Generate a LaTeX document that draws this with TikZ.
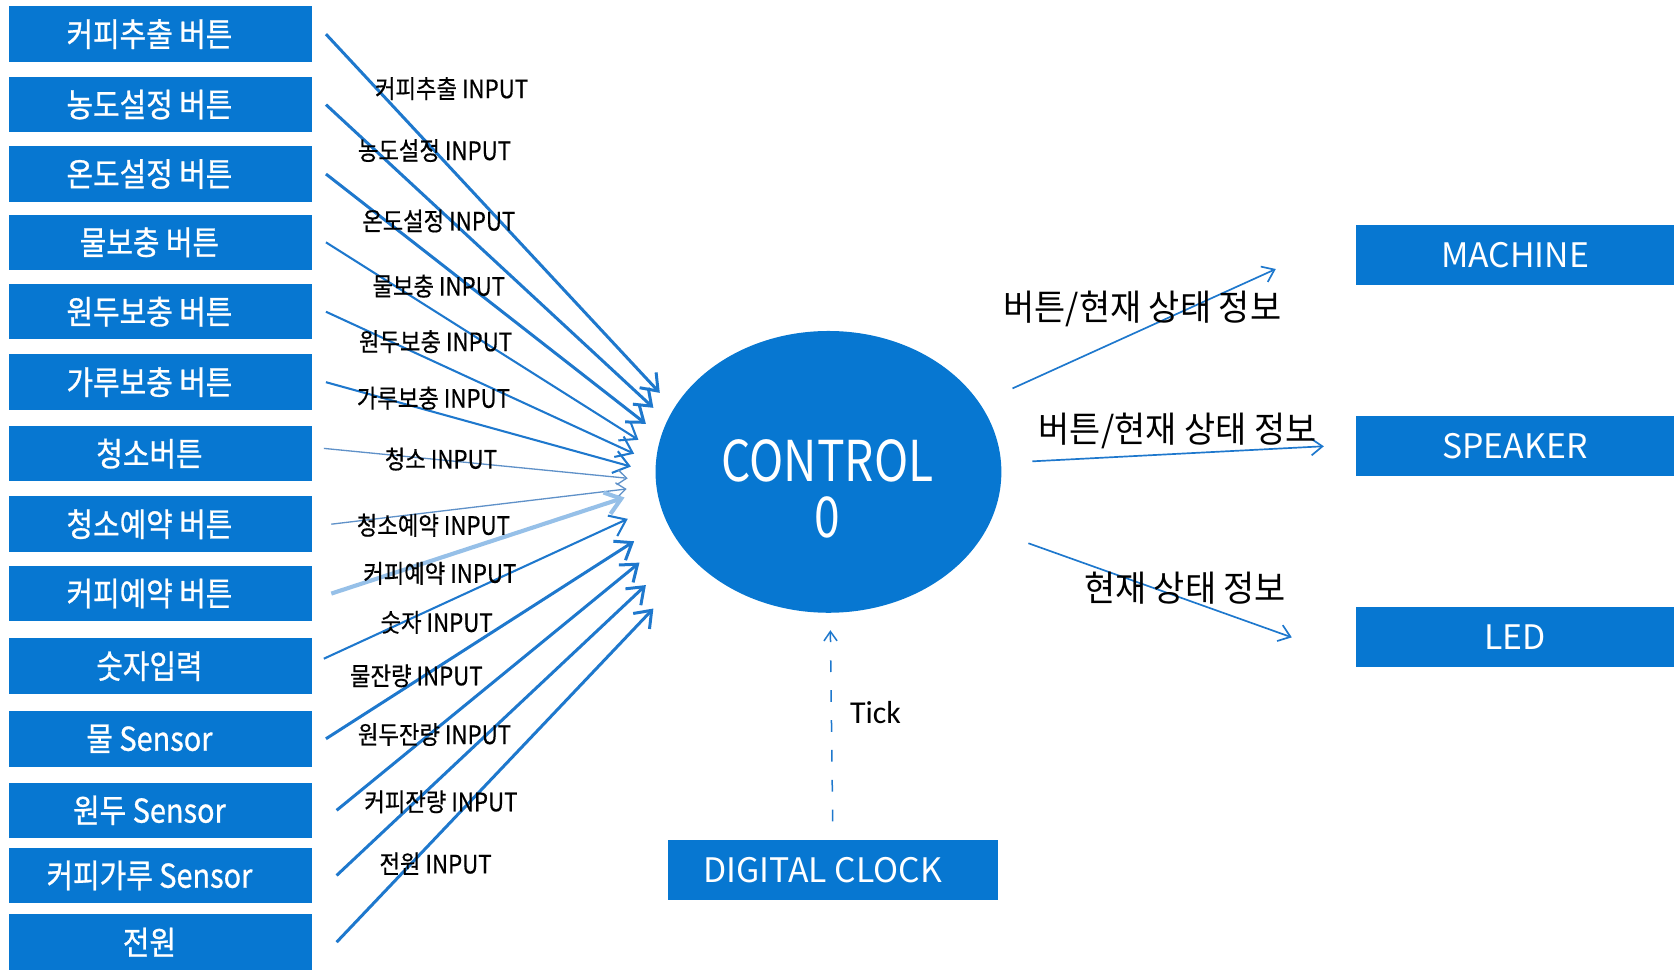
\documentclass[tikz,border=0pt]{standalone}
\usepackage{fontspec}
\setmainfont{Noto Sans CJK KR}
\newfontfamily\boxfont[FakeStretch=0.88,FakeBold=0.8]{Noto Sans CJK KR}
\newfontfamily\lblfont[FakeStretch=0.88,FakeBold=0.5]{Noto Sans CJK KR}
\newfontfamily\infofont[FakeStretch=0.95]{Noto Sans CJK KR}
\newfontfamily\tickfont{Carlito}
\usetikzlibrary{shapes.geometric,arrows.meta}

\definecolor{boxblue}{RGB}{7,119,209}
\definecolor{lineblue}{RGB}{30,120,205}
\definecolor{greyblue}{RGB}{95,145,200}
\definecolor{paleblue}{RGB}{150,192,232}

\tikzset{
  btn/.style={rectangle,fill=boxblue,text=white,inner sep=0pt,
    minimum width=5.68cm,minimum height=1.04cm,font=\boxfont\fontsize{17.5}{19}\selectfont,
    execute at end node=\hspace{0.4cm}},
  outbox/.style={rectangle,fill=boxblue,text=white,inner sep=0pt,
    minimum width=5.96cm,minimum height=1.13cm,font=\fontsize{18}{20}\selectfont},
  inlbl/.style={inner sep=1pt,font=\lblfont\fontsize{13.5}{15}\selectfont},
  outlbl/.style={inner sep=1pt,font=\infofont\fontsize{19}{21}\selectfont},
  feed/.style={draw=lineblue,line width=1.6pt,-{Straight Barb[length=8pt,width=12pt]}},
  feedmid/.style={feed,line width=1.1pt},
  feedthin/.style={draw=greyblue,line width=0.7pt,-{Straight Barb[length=5pt,width=8pt]}},
  feedpale/.style={feed,draw=paleblue,line width=2.2pt},
  sendline/.style={draw=lineblue,line width=0.9pt,-{Straight Barb[length=6pt,width=9pt]}},
  tickline/.style={draw=lineblue,line width=0.8pt,dash pattern=on 0.22cm off 0.34cm,
    -{Straight Barb[length=5pt,width=7pt]}}
}

\begin{document}
\begin{tikzpicture}[x=0.02cm,y=-0.02cm]
  \useasboundingbox (0,0) rectangle (1568,908);

  % input buttons and sensors
  \node (b1) at (150,32) [btn] {커피추출 버튼};
  \node (b2) at (150,98) [btn] {농도설정 버튼};
  \node (b3) at (150,163) [btn] {온도설정 버튼};
  \node (b4) at (150,227) [btn] {물보충 버튼};
  \node (b5) at (150,292) [btn] {원두보충 버튼};
  \node (b6) at (150,358) [btn] {가루보충 버튼};
  \node (b7) at (150,425) [btn] {청소버튼};
  \node (b8) at (150,491) [btn] {청소예약 버튼};
  \node (b9) at (150,556) [btn] {커피예약 버튼};
  \node (b10) at (150,624) [btn] {숫자입력};
  \node (b11) at (150,692) [btn] {물 Sensor};
  \node (b12) at (150,759) [btn] {원두 Sensor};
  \node (b13) at (150,820) [btn] {커피가루 Sensor};
  \node (b14) at (150,882.5) [btn] {전원};

  % controller
  \node (ctl) at (776,442) [ellipse,fill=boxblue,inner sep=0pt,minimum width=6.48cm,minimum height=5.28cm] {};
  \node (ctltxt) at (775,458) [text=white,align=center,font=\addfontfeature{FakeStretch=0.82}\fontsize{30}{29.5}\selectfont] {CONTROL\\0};

  % outputs
  \node (mach) at (1419,239) [outbox] {MACHINE};
  \node (spk) at (1419,417.5) [outbox] {SPEAKER};
  \node (led) at (1419,596.5) [outbox] {LED};
  \node (clk) at (780.5,815) [outbox,minimum width=6.18cm,execute at end node=\hspace{0.4cm}] {DIGITAL CLOCK};

  % arrow ends beside the controller
  \coordinate (e1) at (618,368);
  \coordinate (e2) at (612,382);
  \coordinate (e3) at (605,397);
  \coordinate (e4) at (598,412);
  \coordinate (e5) at (594,425);
  \coordinate (e6) at (591,437);
  \coordinate (e7) at (588,448);
  \coordinate (e8) at (587,458);
  \coordinate (e9) at (585,466);
  \coordinate (e10) at (588,486);
  \coordinate (e11) at (594,507);
  \coordinate (e12) at (599,527);
  \coordinate (e13) at (605,548);
  \coordinate (e14) at (612,570);

  \draw[feed] ([xshift=0.26cm]b1.east) -- (e1);
  \draw[feed] ([xshift=0.26cm]b2.east) -- (e2);
  \draw[feed] ([xshift=0.26cm]b3.east) -- (e3);
  \draw[feedmid] ([xshift=0.26cm]b4.east) -- (e4);
  \draw[feedmid] ([xshift=0.26cm]b5.east) -- (e5);
  \draw[feedmid] ([xshift=0.26cm]b6.east) -- (e6);
  \draw[feedthin] ([xshift=0.22cm,yshift=0.1cm]b7.east) -- (e7);
  \draw[feedthin] ([xshift=0.36cm]b8.east) -- (e8);
  \draw[feedpale] ([xshift=0.36cm]b9.east) -- (e9);
  \draw[feedmid] ([xshift=0.22cm,yshift=0.14cm]b10.east) -- (e10);
  \draw[feed] ([xshift=0.26cm]b11.east) -- (e11);
  \draw[feed] ([xshift=0.46cm]b12.east) -- (e12);
  \draw[feed] ([xshift=0.46cm]b13.east) -- (e13);
  \draw[feed] ([xshift=0.46cm]b14.east) -- (e14);

  % input labels
  \node (l1) at (423,83) [inlbl] {커피추출 INPUT};
  \node (l2) at (407,141) [inlbl] {농도설정 INPUT};
  \node (l3) at (411,207) [inlbl] {온도설정 INPUT};
  \node (l4) at (411,268) [inlbl] {물보충 INPUT};
  \node (l5) at (408,320) [inlbl] {원두보충 INPUT};
  \node (l6) at (406,373) [inlbl] {가루보충 INPUT};
  \node (l7) at (413,430) [inlbl] {청소 INPUT};
  \node (l8) at (406,492) [inlbl] {청소예약 INPUT};
  \node (l9) at (412,537) [inlbl] {커피예약 INPUT};
  \node (l10) at (409,583) [inlbl] {숫자 INPUT};
  \node (l11) at (390,633) [inlbl] {물잔량 INPUT};
  \node (l12) at (407,688) [inlbl] {원두잔량 INPUT};
  \node (l13) at (413,751) [inlbl] {커피잔량 INPUT};
  \node (l14) at (408,809) [inlbl] {전원 INPUT};

  % outgoing information
  \coordinate (t1) at (1195,252);
  \coordinate (t2) at (1240,418);
  \coordinate (t3) at (1210,597);
  \draw[sendline,shorten <=0.67cm] (ctl) -- (t1);
  \draw[sendline,shorten <=0.58cm] (ctl) -- (t2);
  \draw[sendline,shorten <=0.82cm] (ctl) -- (t3);
  \node (s1) at (1070,289) [outlbl] {버튼/현재 상태 정보};
  \node (s2) at (1103,404) [outlbl] {버튼/현재 상태 정보};
  \node (s3) at (1110,551) [outlbl] {현재 상태 정보};

  % clock tick
  \draw[tickline,shorten <=0.34cm,shorten >=0.32cm] (clk) -- (ctl);
  \node (tk) at (820,667) [font=\tickfont\fontsize{17}{19}\selectfont] {Tick};
\end{tikzpicture}
\end{document}
